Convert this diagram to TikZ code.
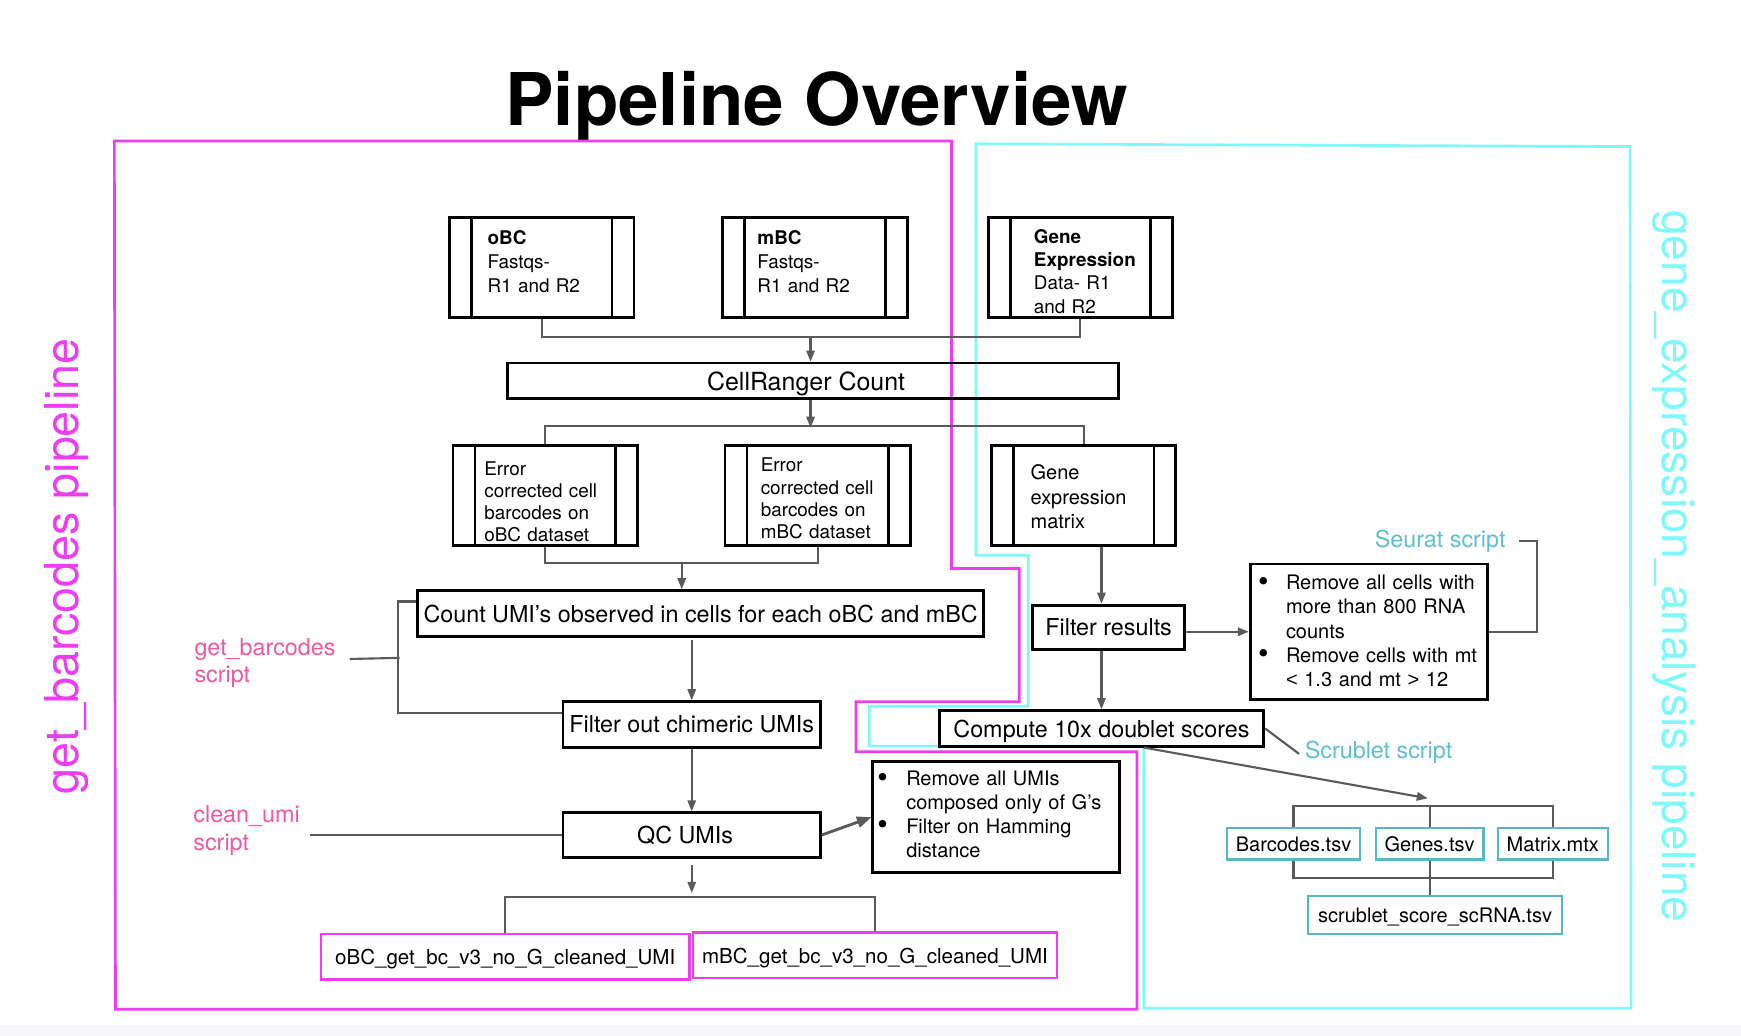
\documentclass[tikz,border=0pt]{standalone}
\usepackage{fontspec}
\setmainfont{TeX Gyre Heros}
\newfontfamily\libsans{Liberation Sans}
\usetikzlibrary{arrows.meta,calc}
\definecolor{magframe}{RGB}{236,62,240}
\definecolor{cyframe}{RGB}{128,248,250}
\definecolor{pinklab}{RGB}{238,88,160}
\definecolor{teallab}{RGB}{95,190,208}
\definecolor{tealedge}{RGB}{90,182,198}
\definecolor{conngray}{RGB}{90,90,90}
\definecolor{bandgray}{RGB}{247,247,249}
\newcommand{\fsz}[2]{\fontsize{#1}{#2}\selectfont}
\newcommand{\bigbul}{\raisebox{-1.5pt}{\fsz{27}{20}\textbullet}}
\newcommand{\procbars}[1]{%
  \draw[line width=2.5pt] ($(#1.north west)+(21,0)$) -- ($(#1.south west)+(21,0)$);
  \draw[line width=2.5pt] ($(#1.north east)+(-21,0)$) -- ($(#1.south east)+(-21,0)$);}
\begin{document}
\begin{tikzpicture}[x=1pt,y=-1pt,
  blackbox/.style={draw=black, line width=2.5pt, inner sep=0pt, text depth=0pt},
  magbox/.style={draw=magframe, line width=2.3pt, inner sep=0pt, text depth=0pt, font=\fsz{18.5}{22}},
  filebox/.style={draw=tealedge, line width=2.1pt, inner sep=0pt, text depth=0pt, font=\fsz{18}{22}},
  conn/.style={draw=conngray, line width=1.9pt},
  arr/.style={conn, -{Triangle[length=10pt,width=7.5pt]}},
  txt/.style={anchor=base west, inner sep=0pt, align=left, text width=#1},
  txt/.default=160pt,
  framepath/.style={line width=2.4pt, line join=miter}]
\useasboundingbox (0,0) rectangle (1568,933);
\fill[bandgray] (0,923) rectangle (1568,933);

% title
\node[anchor=base, inner sep=0pt, font=\bfseries\fsz{65.5}{70}] (title) at (735.5,113) {Pipeline Overview};

% frames
\draw[framepath, draw=magframe] (103,127) -- (857,127) -- (857,512) -- (918,512) -- (918,632) -- (771,632) -- (771,677) -- (1024,677) -- (1024,909) -- (104,909) -- cycle;
\draw[framepath, draw=cyframe] (879,129.5) -- (1468,132) -- (1469,908) -- (1030,908) -- (1030,672) -- (783,672) -- (783,636) -- (926,636) -- (926,500) -- (879,500) -- cycle;

% vertical titles
\node[rotate=90, anchor=base, inner sep=0pt, text=magframe, font=\fsz{42}{46}] (gbp) at (71,510) {get\_barcodes pipeline};
\node[rotate=-90, anchor=base, inner sep=0pt, text=cyframe, font=\fsz{41.5}{45}] (gep) at (1497,510) {gene\_expression\_analysis pipeline};

% input boxes
\node[blackbox, minimum width=166pt, minimum height=90pt] (obc) at (488,241) {};
\node[blackbox, minimum width=166pt, minimum height=90pt] (mbc) at (734,241) {};
\node[blackbox, minimum width=166pt, minimum height=90pt] (genexp) at (973,241) {};
\procbars{obc}\procbars{mbc}\procbars{genexp}
\node[txt, font=\fsz{17}{21.5}] (obct) at (439,220) {\textbf{oBC}\\Fastqs-\\R1 and R2};
\node[txt, font=\fsz{17}{21.5}] (mbct) at (682,220) {\textbf{mBC}\\Fastqs-\\R1 and R2};
\node[txt, font=\fsz{17}{21}] (genexpt) at (931,219) {\textbf{Gene}\\\textbf{Expression}\\Data- R1\\and R2};

% cellranger
\node[blackbox, minimum width=550pt, minimum height=32pt, font=\fsz{22.5}{27}] (cellranger) at (732,343) {CellRanger Count\hspace*{12pt}};

% second row
\node[blackbox, minimum width=166pt, minimum height=90pt] (erro) at (491,446) {};
\node[blackbox, minimum width=167pt, minimum height=90pt] (errm) at (736.5,446) {};
\node[blackbox, minimum width=166pt, minimum height=90pt] (gem) at (976,446) {};
\procbars{erro}\procbars{errm}\procbars{gem}
\node[txt, font=\fsz{17}{20}] (errot) at (436,428) {Error\\corrected cell\\barcodes on\\oBC dataset};
\node[txt, font=\fsz{17}{20}] (errmt) at (685,425) {Error\\corrected cell\\barcodes on\\mBC dataset};
\node[txt, font=\fsz{18}{22}] (gemt) at (928,432) {Gene\\expression\\matrix};

% barcode branch
\node[blackbox, minimum width=510pt, minimum height=41pt, font=\fsz{21}{25}] (countumi) at (631,552.5) {Count UMI’s observed in cells for each oBC and mBC};
\node[blackbox, minimum width=232pt, minimum height=41pt, font=\fsz{21}{25}] (filterchim) at (623,652.5) {Filter out chimeric UMIs};
\node[blackbox, minimum width=232pt, minimum height=40pt, font=\fsz{21}{25}] (qc) at (623,752) {QC UMIs\hspace*{12pt}};
\node[blackbox, minimum width=222pt, minimum height=100pt] (remumi) at (897,736) {};
\node[txt=215pt, font=\fsz{18}{21.5}] (remumit) at (790,707.5) {\makebox[26pt][l]{\bigbul}Remove all UMIs\\\hspace*{26pt}composed only of G’s\\\makebox[26pt][l]{\bigbul}Filter on Hamming\\\hspace*{26pt}distance};
\node[magbox, minimum width=332pt, minimum height=41pt] (outo) at (455,861.5) {oBC\_get\_bc\_v3\_no\_G\_cleaned\_UMI};
\node[magbox, minimum width=328pt, minimum height=41pt] (outm) at (788,860.5) {mBC\_get\_bc\_v3\_no\_G\_cleaned\_UMI};

% gene branch
\node[blackbox, minimum width=137pt, minimum height=40pt, font=\fsz{21}{25}] (filterres) at (998.5,565) {Filter results};
\node[blackbox, minimum width=214pt, minimum height=122pt] (seurat) at (1233,569) {};
\node[txt=210pt, font=\fsz{18}{21.8}] (seuratt) at (1133,531) {\makebox[25pt][l]{\bigbul}Remove all cells with\\\hspace*{25pt}more than 800 RNA\\\hspace*{25pt}counts\\\makebox[25pt][l]{\bigbul}Remove cells with mt\\\hspace*{25pt}{\libsans <} 1.3 and mt {\libsans >} 12};
\node[blackbox, minimum width=292pt, minimum height=32pt, font=\fsz{21}{25}] (compute) at (992,656) {Compute 10x doublet scores};
\node[filebox, minimum width=120pt, minimum height=28pt] (barcodes) at (1165,760) {Barcodes.tsv};
\node[filebox, minimum width=97pt, minimum height=28pt] (genes) at (1287.5,760) {Genes.tsv};
\node[filebox, minimum width=99pt, minimum height=28pt] (matrix) at (1398.5,760) {Matrix.mtx};
\node[filebox, minimum width=229pt, minimum height=34pt] (scrublet) at (1292.5,824) {scrublet\_score\_scRNA.tsv};

% script labels
\node[txt, text=pinklab, font=\fsz{21}{25}] (gbs) at (175,590) {get\_barcodes\\script};
\node[txt, text=pinklab, font=\fsz{21}{25}] (cus) at (174,741) {clean\_umi\\script};
\node[anchor=base west, inner sep=0pt, text=teallab, font=\fsz{21}{25}] (seus) at (1238,493) {Seurat script};
\node[anchor=base west, inner sep=0pt, text=teallab, font=\fsz{21}{25}] (scrs) at (1175,683) {Scrublet script};

% connectors
\coordinate (a1) at (730,304);
\draw[conn] (obc.south) -- ++(0,16) -| (genexp.south);
\draw[arr] (a1) -- (a1 |- cellranger.north);
\draw[arr] (a1 |- cellranger.south) -- ++(0,25);
\draw[conn] (erro.north) -- ++(0,-16) -| (gem.north);
\draw[conn] (erro.south) -- ++(0,15) -| (errm.south);
\coordinate (a3) at (614,506);
\draw[arr] (a3) -- (a3 |- countumi.north);
\draw[arr] ($(countumi.south -| filterchim.north)+(0,2)$) -- (filterchim.north);
\draw[arr] (filterchim.south) -- (qc.north);
\draw[conn, line width=2.6pt, -{Triangle[length=13pt,width=10pt]}] (qc.east) -- (remumi.west);
\draw[arr] ($(qc.south)+(0,6)$) -- ++(0,25);
\draw[conn] (outo.north) -- ++(0,-32) -| (outm.north);

\coordinate (gbl) at (315,593.5);
\coordinate (gbj) at (360,592.5);
\draw[conn] (gbl) -- (gbj);
\draw[conn] ($(countumi.north west)+(0,11)$) -- ++(-16,0) |- ($(filterchim.north west)+(0,11)$);
\coordinate (cul) at (279,752);
\draw[conn] (cul) -- (qc.west);

\draw[arr] (compute.north |- gem.south) -- (compute.north |- filterres.north);
\draw[arr] ($(filterres.east)+(0,4)$) -- ($(filterres.east -| seurat.west)+(0,4)$);
\draw[arr] (compute.north |- filterres.south) -- (compute.north);
\coordinate (sel) at (1368,487);
\draw[conn] (sel) -- ++(16,0) |- (seurat.east);
\coordinate (scl) at (1170,679);
\draw[conn] (compute.east) -- (scl);
\coordinate (fj) at (1286,719);
\draw[arr] ($(compute.south)+(38,0)$) -- (fj);
\draw[conn] (barcodes.north) -- ++(0,-19) -| (matrix.north);
\draw[conn] (genes.north) -- ++(0,-19);
\draw[conn] (barcodes.south) -- ++(0,16) -| (matrix.south);
\draw[conn] (genes.south) -- (genes.south |- scrublet.north);
\end{tikzpicture}
\end{document}
